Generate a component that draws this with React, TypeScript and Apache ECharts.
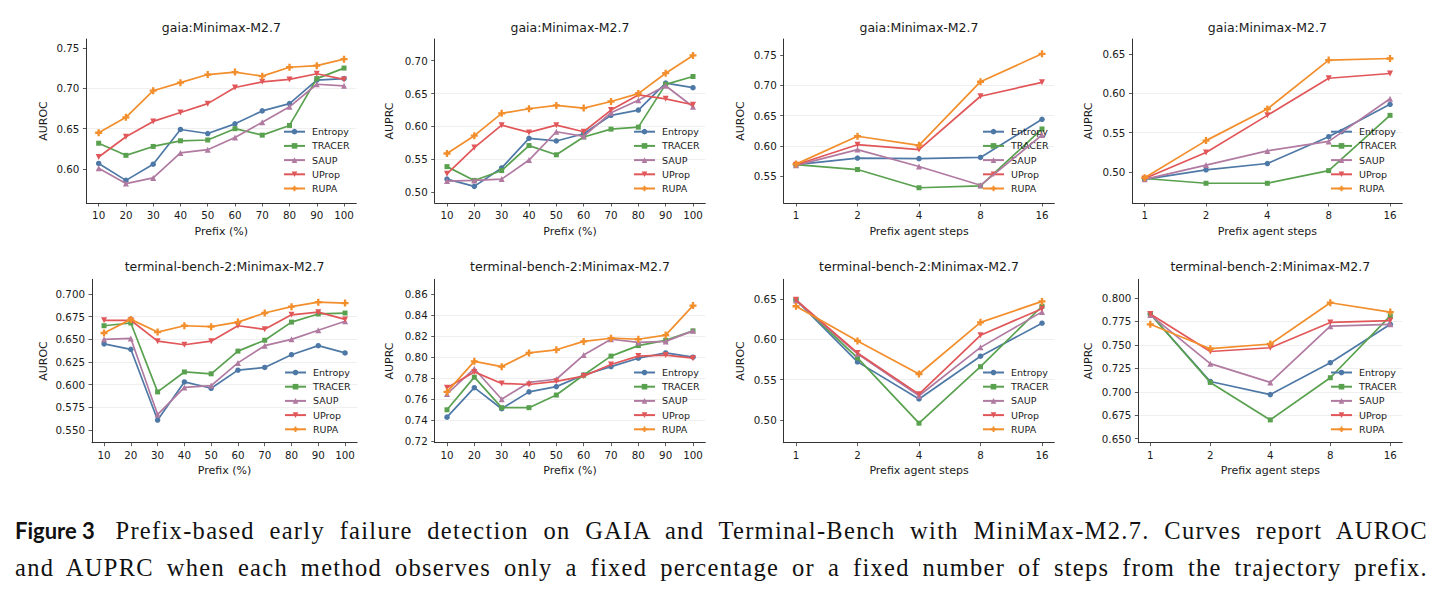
import React, { useEffect, useRef } from "react";
import * as echarts from "echarts";

// ---------- data ----------
const methods = ["Entropy", "TRACER", "SAUP", "UProp", "RUPA"];
const prefixPct = [10, 20, 30, 40, 50, 60, 70, 80, 90, 100];
const prefixSteps = [1, 2, 4, 8, 16];

// rows follow `methods` order
const gaiaAurocPct = [
  [0.607, 0.586, 0.606, 0.649, 0.644, 0.656, 0.672, 0.681, 0.710, 0.712],
  [0.632, 0.617, 0.628, 0.635, 0.636, 0.650, 0.642, 0.654, 0.712, 0.725],
  [0.601, 0.582, 0.589, 0.620, 0.624, 0.639, 0.658, 0.677, 0.705, 0.703],
  [0.615, 0.640, 0.659, 0.670, 0.681, 0.701, 0.708, 0.711, 0.718, 0.711],
  [0.645, 0.664, 0.697, 0.707, 0.717, 0.720, 0.715, 0.726, 0.728, 0.736],
];
const gaiaAuprcPct = [
  [0.520, 0.509, 0.537, 0.582, 0.578, 0.589, 0.617, 0.625, 0.666, 0.659],
  [0.539, 0.518, 0.533, 0.571, 0.557, 0.584, 0.596, 0.599, 0.664, 0.676],
  [0.517, 0.518, 0.520, 0.549, 0.592, 0.585, 0.621, 0.640, 0.662, 0.630],
  [0.528, 0.568, 0.602, 0.591, 0.602, 0.592, 0.625, 0.648, 0.642, 0.633],
  [0.559, 0.586, 0.620, 0.627, 0.632, 0.628, 0.638, 0.650, 0.681, 0.708],
];
const gaiaAurocSteps = [
  [0.569, 0.580, 0.579, 0.581, 0.644],
  [0.569, 0.561, 0.531, 0.534, 0.628],
  [0.568, 0.594, 0.566, 0.535, 0.618],
  [0.569, 0.602, 0.594, 0.682, 0.705],
  [0.570, 0.616, 0.601, 0.706, 0.752],
];
const gaiaAuprcSteps = [
  [0.491, 0.503, 0.511, 0.545, 0.586],
  [0.492, 0.486, 0.486, 0.502, 0.572],
  [0.491, 0.509, 0.527, 0.539, 0.593],
  [0.492, 0.525, 0.572, 0.619, 0.625],
  [0.493, 0.540, 0.580, 0.642, 0.644],
];
const tbAurocPct = [
  [0.645, 0.639, 0.561, 0.603, 0.596, 0.616, 0.619, 0.633, 0.643, 0.635],
  [0.665, 0.668, 0.592, 0.614, 0.612, 0.637, 0.649, 0.669, 0.678, 0.679],
  [0.650, 0.651, 0.567, 0.597, 0.599, 0.624, 0.643, 0.650, 0.660, 0.670],
  [0.671, 0.671, 0.648, 0.644, 0.648, 0.665, 0.661, 0.677, 0.680, 0.672],
  [0.657, 0.672, 0.658, 0.665, 0.664, 0.669, 0.679, 0.686, 0.691, 0.690],
];
const tbAuprcPct = [
  [0.743, 0.771, 0.751, 0.767, 0.772, 0.783, 0.791, 0.799, 0.804, 0.800],
  [0.750, 0.781, 0.752, 0.752, 0.764, 0.783, 0.801, 0.811, 0.816, 0.825],
  [0.765, 0.789, 0.760, 0.776, 0.779, 0.802, 0.817, 0.814, 0.815, 0.825],
  [0.771, 0.786, 0.775, 0.774, 0.777, 0.782, 0.793, 0.801, 0.802, 0.799],
  [0.767, 0.796, 0.791, 0.804, 0.807, 0.815, 0.818, 0.817, 0.821, 0.849],
];
const tbAurocSteps = [
  [0.649, 0.572, 0.526, 0.579, 0.620],
  [0.649, 0.577, 0.496, 0.566, 0.641],
  [0.648, 0.582, 0.530, 0.590, 0.634],
  [0.649, 0.583, 0.532, 0.605, 0.638],
  [0.641, 0.598, 0.557, 0.621, 0.647],
];
const tbAuprcSteps = [
  [0.783, 0.711, 0.697, 0.731, 0.772],
  [0.783, 0.710, 0.670, 0.715, 0.781],
  [0.782, 0.730, 0.710, 0.770, 0.772],
  [0.783, 0.743, 0.747, 0.774, 0.776],
  [0.772, 0.746, 0.751, 0.795, 0.785],
];

// tick labels
const ticksGaiaAurocPct = [0.6, 0.65, 0.7, 0.75];
const ticksGaiaAuprcPct = [0.5, 0.55, 0.6, 0.65, 0.7];
const ticksGaiaAurocSteps = [0.55, 0.6, 0.65, 0.7, 0.75];
const ticksGaiaAuprcSteps = [0.5, 0.55, 0.6, 0.65];
const ticksTbAurocPct = [0.55, 0.575, 0.6, 0.625, 0.65, 0.675, 0.7];
const ticksTbAuprcPct = [0.72, 0.74, 0.76, 0.78, 0.8, 0.82, 0.84, 0.86];
const ticksTbAurocSteps = [0.5, 0.55, 0.6, 0.65];
const ticksTbAuprcSteps = [0.65, 0.675, 0.7, 0.725, 0.75, 0.775, 0.8];

const titleGaia = "gaia:Minimax-M2.7";
const titleTb = "terminal-bench-2:Minimax-M2.7";

// ---------- styles ----------
const colors = ["#4E79A7", "#59A14F", "#B07AA1", "#E15759", "#F28E2B"];
const plusPath = "path://M2,0H4V2H6V4H4V6H2V4H0V2H2Z";
const symbols = ["circle", "rect", "triangle", "triangle", plusPath];
const symbolRot = [0, 0, 0, 180, 0];
const symbolSizes = [5.5, 5, 6, 6, 7];
const FONT = "DejaVu Sans";
const TXT = "#1a1a1a";

type Panel = {
  title: string; yName: string; kind: "pct" | "steps"; values: number[][];
  ticks: number[]; dec: number; yMin: number; yMax: number;
  left: number; top: number; width: number; height: number;
  yNameGap: number; legLeft: number; legTop: number;
};

const R1 = 39, H1 = 164, R2 = 279.3, H2 = 163.4;
const panels: Panel[] = [
  { title: titleGaia, yName: "AUROC", kind: "pct", values: gaiaAurocPct, ticks: ticksGaiaAurocPct, dec: 2, yMin: 0.558, yMax: 0.761, left: 86.4, top: R1, width: 269.9, height: H1, yNameGap: 37, legLeft: 283, legTop: 125.7 },
  { title: titleGaia, yName: "AUPRC", kind: "pct", values: gaiaAuprcPct, ticks: ticksGaiaAuprcPct, dec: 2, yMin: 0.4837, yMax: 0.733, left: 434.7, top: R1, width: 270.6, height: H1, yNameGap: 40, legLeft: 633, legTop: 125.7 },
  { title: titleGaia, yName: "AUROC", kind: "steps", values: gaiaAurocSteps, ticks: ticksGaiaAurocSteps, dec: 2, yMin: 0.5058, yMax: 0.7765, left: 783.7, top: R1, width: 270.6, height: H1, yNameGap: 38, legLeft: 982, legTop: 125.7 },
  { title: titleGaia, yName: "AUPRC", kind: "steps", values: gaiaAuprcSteps, ticks: ticksGaiaAuprcSteps, dec: 2, yMin: 0.461, yMax: 0.6687, left: 1132.4, top: R1, width: 269.9, height: H1, yNameGap: 38, legLeft: 1330, legTop: 125.7 },
  { title: titleTb, yName: "AUROC", kind: "pct", values: tbAurocPct, ticks: ticksTbAurocPct, dec: 3, yMin: 0.536, yMax: 0.7162, left: 92, top: R2, width: 265.1, height: H2, yNameGap: 43, legLeft: 284, legTop: 366.5 },
  { title: titleTb, yName: "AUPRC", kind: "pct", values: tbAuprcPct, ticks: ticksTbAuprcPct, dec: 2, yMin: 0.7187, yMax: 0.874, left: 434.7, top: R2, width: 270.6, height: H2, yNameGap: 40, legLeft: 633, legTop: 366.5 },
  { title: titleTb, yName: "AUROC", kind: "steps", values: tbAurocSteps, ticks: ticksTbAurocSteps, dec: 2, yMin: 0.4718, yMax: 0.6744, left: 783.7, top: R2, width: 270.6, height: H2, yNameGap: 38, legLeft: 982, legTop: 366.5 },
  { title: titleTb, yName: "AUPRC", kind: "steps", values: tbAuprcSteps, ticks: ticksTbAuprcSteps, dec: 3, yMin: 0.6457, yMax: 0.82, left: 1138.3, top: R2, width: 264, height: H2, yNameGap: 44, legLeft: 1330, legTop: 366.5 },
];

function buildOption() {
  const grid: any[] = [], xAxis: any[] = [], yAxis: any[] = [], series: any[] = [], legend: any[] = [], graphic: any[] = [];
  panels.forEach((p, i) => {
    grid.push({ left: p.left, top: p.top, width: p.width, height: p.height, containLabel: false });
    const isPct = p.kind === "pct";
    const xs = isPct ? prefixPct : prefixSteps.map((_, k) => k);
    xAxis.push({
      type: "value", gridIndex: i,
      min: isPct ? 5.5 : -0.2, max: isPct ? 104.5 : 4.2,
      name: isPct ? "Prefix (%)" : "Prefix agent steps",
      nameLocation: "middle", nameGap: 22.5,
      nameTextStyle: { fontFamily: FONT, fontSize: 11, color: TXT },
      axisLine: { show: true, onZero: false, lineStyle: { color: "#333", width: 1 } },
      axisTick: { show: true, length: 3.5, customValues: xs, lineStyle: { color: "#333", width: 0.8 } },
      axisLabel: {
        customValues: xs, margin: 7, fontFamily: FONT, fontSize: 10.3, color: TXT,
        showMinLabel: true, showMaxLabel: true,
        formatter: (v: number) => (isPct ? String(Math.round(v)) : String(prefixSteps[Math.round(v)])),
      },
      splitLine: { show: false },
    });
    yAxis.push({
      type: "value", gridIndex: i, min: p.yMin, max: p.yMax,
      name: p.yName, nameLocation: "middle", nameGap: p.yNameGap, nameRotate: 90,
      nameTextStyle: { fontFamily: FONT, fontSize: 11, color: TXT },
      axisLine: { show: true, onZero: false, lineStyle: { color: "#333", width: 1 } },
      axisTick: { show: true, length: 3.5, customValues: p.ticks, lineStyle: { color: "#333", width: 0.8 } },
      axisLabel: {
        customValues: p.ticks, margin: 7, fontFamily: FONT, fontSize: 10.3, color: TXT,
        formatter: (v: number) => v.toFixed(p.dec),
      },
      splitLine: { show: true, showMinLine: false, showMaxLine: false, lineStyle: { color: "#ebebeb", width: 0.8 } },
    });
    methods.forEach((m, k) => {
      series.push({
        type: "line", name: m, xAxisIndex: i, yAxisIndex: i,
        data: p.values[k].map((v, j) => [xs[j], v]),
        symbol: symbols[k], symbolRotate: symbolRot[k], symbolSize: symbolSizes[k], showSymbol: true,
        lineStyle: { color: colors[k], width: 1.7 },
        itemStyle: { color: colors[k], opacity: 1 },
        emphasis: { disabled: true }, silent: true, z: 2 + k,
      });
    });
    legend.push({
      orient: "vertical", left: p.legLeft, top: p.legTop, padding: 0,
      itemWidth: 21, itemHeight: 7, itemGap: 2.2, selectedMode: false,
      data: methods,
      textStyle: { fontFamily: FONT, fontSize: 9.5, color: TXT, lineHeight: 12, padding: [0, 0, 0, 2] },
    });
    graphic.push({
      type: "text", x: p.left + p.width / 2, y: i < 4 ? 27.3 : 266.7, silent: true,
      style: { text: p.title, fontFamily: FONT, fontSize: 12.5, fill: TXT, textAlign: "center", textVerticalAlign: "middle" },
    });
  });
  return { animation: false, backgroundColor: "#fff", grid, xAxis, yAxis, series, legend, graphic };
}

const lineStyle: React.CSSProperties = { textAlign: "justify", textAlignLast: "justify", whiteSpace: "nowrap" };

export default function App() {
  const ref = useRef<HTMLDivElement>(null);
  useEffect(() => {
    const chart = echarts.init(ref.current!, null, { renderer: "svg" });
    chart.setOption(buildOption());
    return () => chart.dispose();
  }, []);
  return (
    <div style={{ position: "absolute", left: 0, top: 0, width: 1442, height: 596, background: "#fff" }}>
      <div ref={ref} style={{ position: "absolute", left: 0, top: 0, width: 1442, height: 500 }} />
      <div
        style={{
          position: "absolute", left: 15, top: 512, width: 1413,
          fontFamily: '"Liberation Serif", serif', fontSize: 24.5, lineHeight: "37px", color: "#111",
          letterSpacing: "1.3px",
        }}
      >
        <div style={lineStyle}>
          <span style={{ display: "inline-block", fontFamily: "Lato, sans-serif", fontWeight: 700, fontSize: 22, letterSpacing: "0px", marginRight: 6 }}>Figure 3</span>
          {" "}Prefix-based early failure detection on GAIA and Terminal-Bench with MiniMax-M2.7. Curves report AUROC
        </div>
        <div style={lineStyle}>
          and AUPRC when each method observes only a fixed percentage or a fixed number of steps from the trajectory prefix.
        </div>
      </div>
    </div>
  );
}
